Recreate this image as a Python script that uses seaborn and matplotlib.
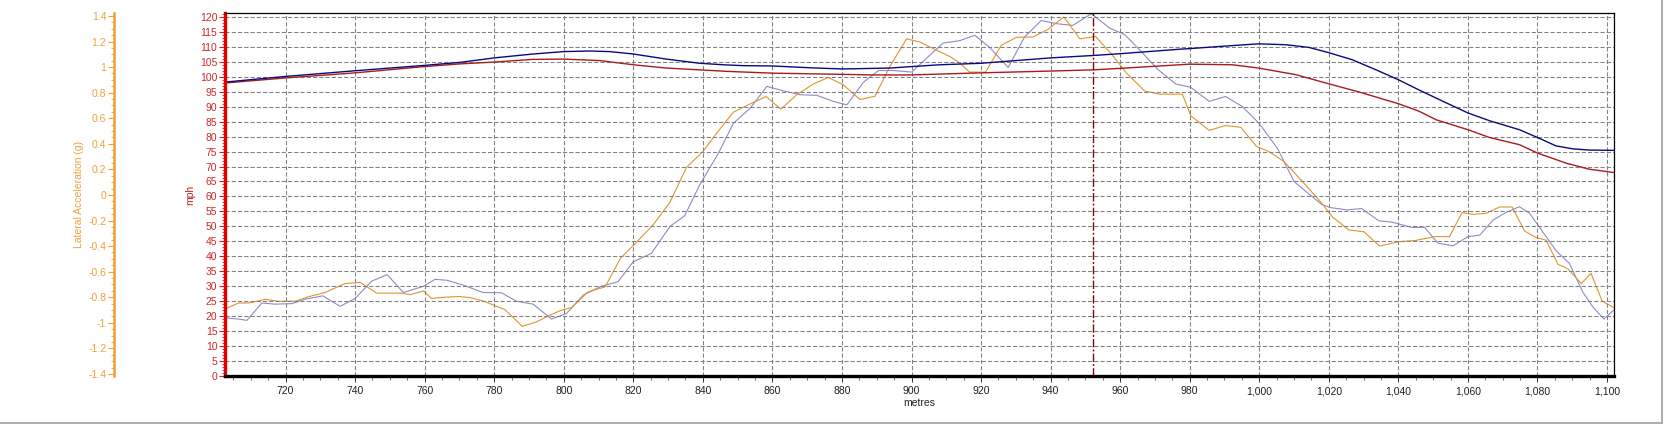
import numpy as np
import matplotlib
matplotlib.use("Agg")
import matplotlib.pyplot as plt
from matplotlib.ticker import MultipleLocator, FuncFormatter
from matplotlib.lines import Line2D
import seaborn as sns

# speed traces (mph) vs distance (metres)
dist_speed_a = [702.5, 720, 740, 760, 770.2, 780, 791.2, 800, 807.5, 813.2, 820, 829.5, 839.1,
                845.9, 851.7, 860, 870.8, 880.1, 893.8, 900, 908.2, 920, 940, 952.2, 960, 977.1,
                980, 988.4, 999.8, 1007.6, 1014.3, 1019.8, 1026.7, 1033.4, 1040, 1045.9,
                1052.8, 1060, 1066.2, 1074.8, 1080, 1085.3, 1090.2, 1094.9, 1101.9]
speed_a = [98.2, 100.1, 102.0, 103.8, 104.8, 106.3, 107.6, 108.4, 108.6, 108.4, 107.6, 105.9, 104.5,
           104.0, 103.7, 103.6, 103.0, 102.6, 102.9, 103.4, 104.0, 104.5, 106.3, 107.1, 107.7, 109.2,
           109.4, 110.1, 111.0, 110.7, 109.8, 108.1, 105.7, 102.4, 99.0, 95.6,
           91.8, 87.9, 85.3, 82.3, 79.7, 76.9, 75.9, 75.5, 75.4]

dist_speed_b = [702.5, 720, 740, 760, 770.2, 780, 791.2, 800, 810.4, 820, 829.5, 839.1,
                846.9, 860, 880.1, 889, 900, 908.2, 920, 940, 952.2, 960, 977.1,
                980, 992.3, 999.8, 1010.5, 1019.8, 1028.7, 1040, 1045.9,
                1050.9, 1060, 1066.2, 1074.8, 1080, 1088.3, 1094.9, 1101.9]
speed_b = [97.9, 99.6, 101.3, 103.4, 104.3, 104.9, 105.8, 105.9, 105.4, 104.0, 102.9, 102.3,
           101.8, 101.2, 100.8, 100.6, 100.6, 100.9, 101.3, 101.9, 102.3, 102.8, 104.0,
           104.2, 104.0, 102.9, 100.7, 97.7, 94.9, 91.0, 88.5,
           85.6, 82.3, 79.7, 77.3, 74.5, 71.1, 69.1, 68.0]

# lateral acceleration traces (g)
dist_lat_a = [702.5, 706.5, 709.4, 714.2, 718, 722.8, 726.6, 731.4, 737.1, 741.5, 746.2, 753.4,
              755.8, 759.7, 762, 765, 770.1, 773, 776.8, 783.1, 788.1, 792.2, 796, 799.3, 802.2,
              807, 811.9, 816.3, 820.9, 825.7, 830.5, 835.3, 840, 844, 848.8, 854.1, 858.2,
              862.4, 867, 871.8, 876.1, 880.4, 885.2, 889.5, 893.8, 898.6, 902.5, 905.2, 911,
              913.9, 916.7, 921.3, 925.8, 930.2, 934.9, 939.2, 943.8, 948.4, 952.9, 957.5,
              961.8, 967, 971.3, 977.9, 980.3, 985.6, 990.3, 994.7, 999.2, 1002.8, 1007.1,
              1012.4, 1017.2, 1021, 1025.8, 1030.1, 1034.6, 1040.2, 1044.9, 1050.4, 1054.7,
              1058.3, 1061.4, 1065.3, 1069.1, 1072.7, 1076.3, 1079.6, 1082.5, 1085.9, 1088.7,
              1092.6, 1095.4, 1098.6, 1101.9]
lat_a = [-0.894, -0.845, -0.845, -0.817, -0.831, -0.831, -0.796, -0.763, -0.693, -0.684, -0.768, -0.768,
         -0.780, -0.751, -0.810, -0.801, -0.794, -0.803, -0.829, -0.897, -1.028, -0.992, -0.941, -0.901, -0.882,
         -0.758, -0.719, -0.496, -0.370, -0.234, -0.059, 0.215, 0.339, 0.484, 0.648, 0.718, 0.770,
         0.671, 0.784, 0.868, 0.919, 0.861, 0.746, 0.772, 1.006, 1.221, 1.195, 1.158, 1.083,
         1.032, 0.961, 0.961, 1.170, 1.233, 1.235, 1.294, 1.392, 1.221, 1.240, 1.102,
         0.954, 0.814, 0.788, 0.788, 0.620, 0.505, 0.543, 0.529, 0.379, 0.339, 0.262,
         0.105, -0.040, -0.171, -0.274, -0.288, -0.400, -0.365, -0.356, -0.326, -0.326,
         -0.138, -0.152, -0.143, -0.094, -0.094, -0.283, -0.333, -0.354, -0.543, -0.576,
         -0.693, -0.613, -0.831, -0.880]

dist_lat_b = [702.5, 706.5, 708.9, 713.2, 717, 721.8, 725.7, 730.7, 735.7, 740, 744.8, 749.2,
              753.9, 759.7, 763, 766.4, 771.1, 776.8, 782.1, 786.4, 791.2, 796.5, 800.8, 805.6,
              810.8, 815.6, 820, 825.2, 830.5, 834.8, 839.1, 844.5, 848.8, 853.6, 858.4, 863.2,
              868, 872.8, 877.5, 881.4, 886.2, 890.5, 894.8, 900.1, 904.4, 909.1, 913.9, 918.2,
              922.5, 927.8, 932.5, 937.3, 942.1, 946.4, 951.7, 957, 961.3, 965.1, 970.9, 976,
              980.3, 985.6, 990.3, 995.1, 999.9, 1005.2, 1010, 1014.3, 1018.1, 1020.5, 1025.3,
              1029.4, 1034.4, 1038.2, 1044, 1047.5, 1051.4, 1055.7, 1060, 1063.4, 1067.2, 1071,
              1074.8, 1077.7, 1081.5, 1085.4, 1089.2, 1093, 1095.9, 1099.1, 1101.9]
lat_b = [-0.960, -0.971, -0.981, -0.845, -0.854, -0.850, -0.815, -0.789, -0.871, -0.810, -0.674, -0.623,
         -0.763, -0.714, -0.660, -0.667, -0.705, -0.763, -0.765, -0.831, -0.854, -0.971, -0.927, -0.784,
         -0.714, -0.679, -0.522, -0.457, -0.248, -0.162, 0.079, 0.327, 0.561, 0.678, 0.849, 0.814,
         0.784, 0.779, 0.732, 0.704, 0.882, 0.973, 0.973, 0.961, 1.071, 1.188, 1.207, 1.249,
         1.153, 0.997, 1.235, 1.364, 1.338, 1.326, 1.418, 1.305, 1.254, 1.149, 0.980, 0.868,
         0.842, 0.732, 0.770, 0.692, 0.561, 0.365, 0.105, 0.007, -0.077, -0.099, -0.117,
         -0.106, -0.202, -0.213, -0.255, -0.253, -0.377, -0.398, -0.326, -0.314, -0.197, -0.136,
         -0.092, -0.143, -0.288, -0.438, -0.536, -0.758, -0.875, -0.971, -0.901]

cursor_pos = 952.2

sns.set_style("white")
plt.rcParams["font.family"] = ["Liberation Sans", "DejaVu Sans"]
plt.rcParams["font.size"] = 7.5
plt.rcParams["lines.scale_dashes"] = False

fig = plt.figure(figsize=(16.64, 4.24), dpi=100)
ax = fig.add_axes([225 / 1664, 48 / 424, 1389 / 1664, 363 / 424])
ax2 = ax.twinx()

# lateral acceleration on the orange axis
sns.lineplot(x=dist_lat_b, y=lat_b, ax=ax2, color="#8c8cc8", linewidth=0.8, estimator=None)
sns.lineplot(x=dist_lat_a, y=lat_a, ax=ax2, color="#e0952e", linewidth=0.8, estimator=None)
# speed on the red axis
sns.lineplot(x=dist_speed_b, y=speed_b, ax=ax, color="#a81c1c", linewidth=1.0, estimator=None)
sns.lineplot(x=dist_speed_a, y=speed_a, ax=ax, color="#0a0a80", linewidth=1.0, estimator=None)
ax.set_zorder(ax2.get_zorder() + 1)
ax.patch.set_visible(False)

ax.set_xlim(702.6, 1102)
ax.set_ylim(0, 121.3)
ax2.set_ylim(-1.416, 1.423)

# grid
ax.xaxis.set_major_locator(MultipleLocator(20))
ax.xaxis.set_minor_locator(MultipleLocator(5))
ax.yaxis.set_major_locator(MultipleLocator(5))
ax.yaxis.set_minor_locator(MultipleLocator(1))
ax.grid(True, which="major", color="#808080", linewidth=0.75, linestyle=(0, (3, 1.5)))
ax.xaxis.set_major_formatter(FuncFormatter(lambda v, p: f"{v:,.0f}"))

ax.axvline(cursor_pos, color="#7a0a0a", linewidth=1.0, linestyle=(0, (6, 1.5, 1.5, 1.5)))

# spines
for s in ["top", "right"]:
    ax.spines[s].set_color("black")
    ax.spines[s].set_linewidth(0.9)
ax.spines["bottom"].set_color("black")
ax.spines["bottom"].set_linewidth(2.4)
ax.spines["left"].set_color("#e00000")
ax.spines["left"].set_linewidth(2.4)
for s in ["top", "right", "bottom"]:
    ax2.spines[s].set_visible(False)

ax.tick_params(axis="x", which="major", direction="out", length=4, width=0.7, color="#333333",
               labelsize=7.5, labelcolor="#202020", pad=3.5, bottom=True)
ax.tick_params(axis="x", which="minor", direction="out", length=3, width=0.6, color="#555555", bottom=True)
ax.tick_params(axis="y", which="major", direction="out", length=4, width=0.8, color="#d02020",
               labelsize=7.5, labelcolor="#d02828", pad=1.5, left=True)
ax.tick_params(axis="y", which="minor", direction="out", length=2, width=0.6, color="#d02020", left=True)

ax.set_xlabel("metres", fontsize=7.5, color="#202020", labelpad=1)
ax.set_ylabel("mph", fontsize=7.5, color="#c02020", labelpad=3)

# orange axis on the far left
ax2.yaxis.set_ticks_position("left")
ax2.yaxis.set_label_position("left")
ax2.spines["left"].set_position(("outward", 80))
ax2.spines["left"].set_color("#f0a030")
ax2.spines["left"].set_linewidth(1.8)
ax2.yaxis.set_major_locator(MultipleLocator(0.2))
ax2.yaxis.set_minor_locator(MultipleLocator(0.05))
ax2.yaxis.set_major_formatter(FuncFormatter(lambda v, p: f"{v:.1f}".rstrip("0").rstrip(".") if abs(v) > 1e-9 else "0"))
ax2.tick_params(axis="y", which="major", direction="out", length=4, width=0.8, color="#f0a030",
                labelsize=7.5, labelcolor="#f0a040", pad=1.5)
ax2.tick_params(axis="y", which="minor", direction="out", length=2, width=0.6, color="#f0a030")
ax2.set_ylabel("Lateral Acceleration (g)", fontsize=7.5, color="#f0a040", labelpad=3)

# window border
fig.add_artist(Line2D([0, 0.9985], [0.0025, 0.0025], transform=fig.transFigure, color="#a0a0a0", linewidth=1.2))
fig.add_artist(Line2D([0.9985, 0.9985], [0.0025, 1], transform=fig.transFigure, color="#a0a0a0", linewidth=1.2))

fig.savefig("out.png", dpi=100)
